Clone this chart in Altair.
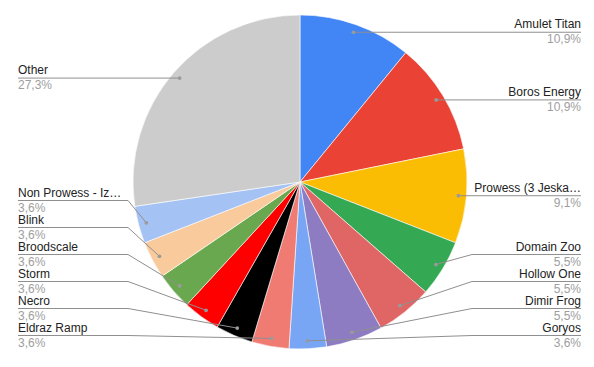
import math
import altair as alt
import pandas as pd

# ---- data ----
names = ["Amulet Titan", "Boros Energy", "Prowess (3 Jeska…", "Domain Zoo", "Hollow One",
         "Dimir Frog", "Goryos", "Eldraz Ramp", "Necro", "Storm", "Broodscale", "Blink",
         "Non Prowess - Iz…", "Other"]
shares = [10.9, 10.9, 9.1, 5.5, 5.5, 5.5, 3.6, 3.6, 3.6, 3.6, 3.6, 3.6, 3.6, 27.3]
colors = ["#4285F4", "#EA4335", "#FBBC04", "#34A853", "#E06666", "#8E7CC3", "#78A6F5",
          "#F07B72", "#000000", "#FF0000", "#6AA84F", "#F9CB9C", "#A4C2F4", "#CCCCCC"]

# ---- layout ----
W, H = 594, 367
CX, CY, R = 300, 182, 167
DOT_R = 159
ELBOW = R + 5
RIGHT_X, LEFT_X = 581, 18
SPACING, BOTTOM = 27, 335.5

total = sum(shares)
rows = []
cum = 0.0
for i, (n, v) in enumerate(zip(names, shares)):
    mid = (cum + v / 2) / total
    cum += v
    a = 2 * math.pi * mid
    dx = CX + DOT_R * math.sin(a)
    dy = CY - DOT_R * math.cos(a)
    side = "right" if math.sin(a) >= 0 else "left"
    rows.append(dict(idx=i, name=n, share=v, pct=f"{v:.1f}%".replace(".", ","),
                     dot_x=dx, dot_y=dy, side=side))
df = pd.DataFrame(rows)

# simple collision avoidance from the bottom upwards on each side
df["label_y"] = df["dot_y"]
for side in ("right", "left"):
    sub = df[df.side == side].sort_values("dot_y", ascending=False)
    prev = None
    for i, r in sub.iterrows():
        y = min(r.dot_y, BOTTOM)
        if prev is not None:
            y = min(y, prev - SPACING)
        df.loc[i, "label_y"] = y
        prev = y
df["elbow_x"] = df["side"].map({"right": CX + ELBOW, "left": CX - ELBOW})
df["end_x"] = df["side"].map({"right": RIGHT_X, "left": LEFT_X})
df["name_y"] = df["label_y"] - 4
df["pct_y"] = df["label_y"] + 11

xs = alt.Scale(domain=[0, W], nice=False, zero=False)
ys = alt.Scale(domain=[H, 0], nice=False, zero=False)

base = alt.Chart(df)

pie = base.mark_arc(radius=R, stroke="#ffffff", strokeWidth=0.6).encode(
    theta=alt.Theta("share:Q", stack=True),
    color=alt.Color("name:N", scale=alt.Scale(domain=names, range=colors), legend=None),
    order=alt.Order("idx:Q"),
    x=alt.value(CX),
    y=alt.value(CY),
)

seg1 = base.mark_rule(color="#8f8f8f", strokeWidth=1).encode(
    x=alt.X("dot_x:Q", scale=xs, axis=None),
    y=alt.Y("dot_y:Q", scale=ys, axis=None),
    x2="elbow_x:Q",
    y2="label_y:Q",
)
seg2 = base.mark_rule(color="#8f8f8f", strokeWidth=1).encode(
    x=alt.X("elbow_x:Q", scale=xs, axis=None),
    y=alt.Y("label_y:Q", scale=ys, axis=None),
    x2="end_x:Q",
)
dots = base.mark_circle(color="#9a9a9a", size=14, opacity=1).encode(
    x=alt.X("dot_x:Q", scale=xs, axis=None),
    y=alt.Y("dot_y:Q", scale=ys, axis=None),
)

FONT = "Arial, Liberation Sans, sans-serif"
texts = []
for side, align in (("right", "right"), ("left", "left")):
    sb = base.transform_filter(alt.datum.side == side)
    texts.append(sb.mark_text(align=align, baseline="alphabetic", font=FONT, fontSize=12,
                              color="#222222").encode(
        x=alt.X("end_x:Q", scale=xs, axis=None),
        y=alt.Y("name_y:Q", scale=ys, axis=None),
        text="name:N"))
    texts.append(sb.mark_text(align=align, baseline="alphabetic", font=FONT, fontSize=12,
                              color="#9e9e9e").encode(
        x=alt.X("end_x:Q", scale=xs, axis=None),
        y=alt.Y("pct_y:Q", scale=ys, axis=None),
        text="pct:N"))

chart = alt.layer(pie, seg1, seg2, dots, *texts).properties(
    width=W, height=H, padding=0, autosize="none", background="#ffffff"
).configure_view(stroke=None)

chart.save("out.html", embed_options={"renderer": "svg", "actions": False})
